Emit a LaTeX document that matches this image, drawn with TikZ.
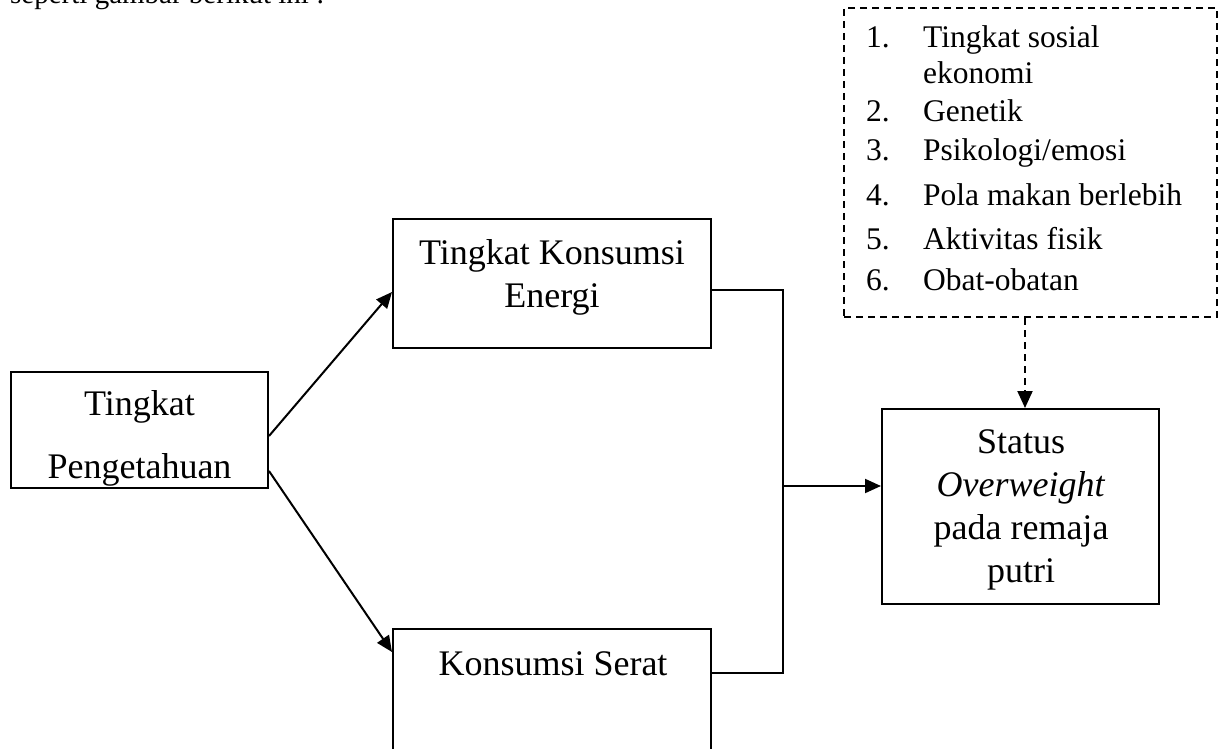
\documentclass[tikz,border=0pt]{standalone}
\usepackage{fontspec}
\setmainfont{Liberation Serif}
\usetikzlibrary{arrows.meta}
\begin{document}
\begin{tikzpicture}[x=1pt,y=-1pt,
  boxed/.style={draw, line width=2pt, inner sep=0pt},
  dbox/.style={draw, line width=2pt, inner sep=0pt, dash pattern=on 7pt off 5pt},
  big/.style={inner sep=0pt, anchor=base, font=\fontsize{36}{43}\selectfont},
  small/.style={inner sep=0pt, anchor=base west, font=\fontsize{31.5}{36}\selectfont},
  conn/.style={line width=2pt},
  arr/.style={line width=2pt, -{Triangle[length=16pt,width=14pt]}},
  darr/.style={line width=2pt, dash pattern=on 7pt off 5pt, -{Triangle[length=17pt,width=15pt]}}]
\useasboundingbox (0,0) rectangle (1227,749);
\clip (0,0) rectangle (1227,749);
\fill[white] (0,0) rectangle (1227,749);

% cut-off running text at the top
\node[inner sep=0pt, anchor=base west, font=\fontsize{29}{32}\selectfont] (top) at (10,3.5) {seperti gambar berikut ini :};

% boxes
\node[boxed, minimum width=257pt, minimum height=116pt] (pen) at (139.5,430) {};
\node[boxed, minimum width=318pt, minimum height=129pt] (ene) at (552,283.5) {};
\node[boxed, minimum width=318pt, minimum height=140pt] (ser) at (552,699) {};
\node[boxed, minimum width=277pt, minimum height=195pt] (sta) at (1020.5,506.5) {};
\node[dbox, minimum width=373pt, minimum height=309pt] (fac) at (1030.5,162.5) {};

% box texts
\node[big] (pen1) at (139.5,415) {Tingkat};
\node[big] (pen2) at (139.5,478) {Pengetahuan};
\node[big] (ene1) at (552,264) {Tingkat Konsumsi};
\node[big] (ene2) at (552,307) {Energi};
\node[big] (ser1) at (553,675) {Konsumsi Serat};
\node[big] (sta1) at (1021,453) {Status};
\node[big] (sta2) at (1021,496) {\textit{Overweight}};
\node[big] (sta3) at (1021,539) {pada remaja};
\node[big] (sta4) at (1021,582) {putri};

% list
\node[small] (n1) at (866,48) {1.};
\node[small] (t1) at (923,48) {Tingkat sosial};
\node[small] (t1b) at (923,84) {ekonomi};
\node[small] (n2) at (866,122) {2.};
\node[small] (t2) at (923,122) {Genetik};
\node[small] (n3) at (866,161) {3.};
\node[small] (t3) at (923,161) {Psikologi/emosi};
\node[small] (n4) at (866,206) {4.};
\node[small] (t4) at (923,206) {Pola makan berlebih};
\node[small] (n5) at (866,249) {5.};
\node[small] (t5) at (923,249) {Aktivitas fisik};
\node[small] (n6) at (866,290) {6.};
\node[small] (t6) at (923,290) {Obat-obatan};

% connectors
\draw[arr] ([yshift=-6pt]pen.east) -- ([yshift=-8.5pt]ene.west);
\draw[arr] ([yshift=-41pt]pen.east) -- ([yshift=-24pt]ser.north west);
\draw[conn] ([yshift=-6.5pt]ene.east) -| (783,430) |- ([yshift=-45pt]ser.north east);
\coordinate (j) at (783,486);
\draw[arr] (j) -- (j -| sta.west);
\draw[darr] ([xshift=-5.5pt]fac.south) -- ([xshift=-5.5pt]fac.south |- sta.north);
\end{tikzpicture}
\end{document}
